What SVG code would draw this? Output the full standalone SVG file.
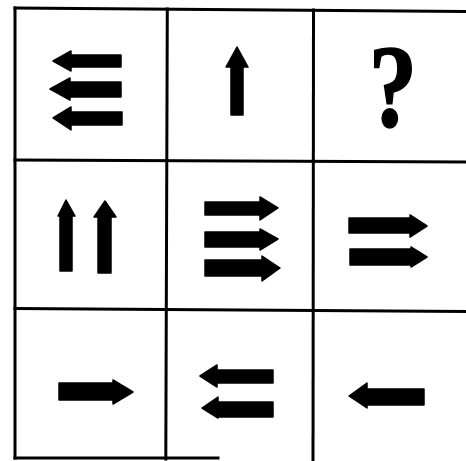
<svg xmlns="http://www.w3.org/2000/svg" width="466" height="461" viewBox="0 0 466 461">
<style>
.g{stroke:#000;stroke-width:3;fill:none;stroke-linecap:square}
.a{fill:#000;stroke:#000;stroke-width:1.5;stroke-linejoin:round}
.q{font-family:"Liberation Serif",serif;font-weight:bold;fill:#000;stroke:#000;stroke-width:1.5}
</style>
<rect width="466" height="461" fill="#fff"/>
<g id="grid">
<line class="g" x1="15" y1="8" x2="466" y2="11.5"/>
<line class="g" x1="15" y1="160" x2="466" y2="162"/>
<line class="g" x1="15" y1="308.5" x2="466" y2="311.5"/>
<line class="g" x1="15" y1="458" x2="218" y2="458"/>
<line class="g" x1="15" y1="8" x2="15" y2="458"/>
<line class="g" x1="167.3" y1="9" x2="165.8" y2="459"/>
<line class="g" x1="313.5" y1="10" x2="313" y2="461"/>
</g>
<g id="cell-1-1">
<path class="a" d="M53 61 L71 51 L71 55 L121 55 L121 67 L71 67 L71 71 Z"/>
<path class="a" d="M50 89 L70 78 L70 82 L121 82 L121 97 L70 97 L70 100 Z"/>
<path class="a" d="M53 118 L71 107 L71 112 L122 112 L122 125 L71 125 L71 130 Z"/>
</g>
<g id="cell-1-2">
<path class="a" d="M237 47 L248 67 L243 67 L243 115 L231 115 L231 67 L226 67 Z"/>
</g>
<g id="cell-1-3">
<text class="q" x="393" y="126" font-size="118" text-anchor="middle" transform="translate(393 0) scale(0.82 1) translate(-393 0)">?</text>
</g>
<g id="cell-2-1">
<path class="a" d="M66 200 L75 216 L72 216 L72 271 L60 271 L60 216 L58 216 Z"/>
<path class="a" d="M105 201 L116 217 L111 217 L111 273 L98 273 L98 217 L94 217 Z"/>
</g>
<g id="cell-2-2">
<path class="a" d="M278 208 L260 197 L260 202 L205 202 L205 215 L260 215 L260 220 Z"/>
<path class="a" d="M278 239 L260 229 L260 232 L205 232 L205 247 L260 247 L260 250 Z"/>
<path class="a" d="M280 268 L262 256 L262 260 L205 260 L205 276 L262 276 L262 281 Z"/>
</g>
<g id="cell-2-3">
<path class="a" d="M427 226 L410 215 L410 218 L349 218 L349 233 L410 233 L410 237 Z"/>
<path class="a" d="M427 257 L411 247 L411 249 L350 249 L350 265 L411 265 L411 267 Z"/>
</g>
<g id="cell-3-1">
<path class="a" d="M133 392 L113 380 L113 383 L59 383 L59 400 L113 400 L113 404 Z"/>
</g>
<g id="cell-3-2">
<path class="a" d="M200 376 L217 365 L217 370 L273 370 L273 383 L217 383 L217 387 Z"/>
<path class="a" d="M202 408 L218 397 L218 402 L273 402 L273 417 L218 417 L218 418 Z"/>
</g>
<g id="cell-3-3">
<path class="a" d="M349 396 L367 383 L367 389 L424 389 L424 405 L367 405 L367 408 Z"/>
</g>
</svg>
